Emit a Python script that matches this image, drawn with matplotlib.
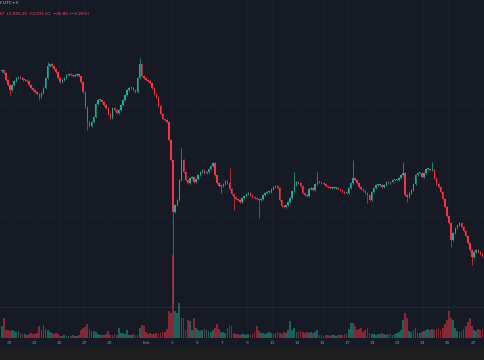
import numpy as np
import pandas as pd
import matplotlib
matplotlib.use('Agg')
import matplotlib.pyplot as plt
import matplotlib.dates as mdates
import matplotlib.transforms as mtransforms

# 4h candles, ETH/USDT, Jan 20 - Feb 27
first_open = 3380
closes = [
    3386, 3370, 3332, 3305, 3278, 3305, 3327, 3343, 3348, 3343, 3332, 3332,
    3327, 3305, 3289, 3278, 3267, 3256, 3240, 3262, 3289, 3343, 3408, 3418,
    3408, 3391, 3375, 3343, 3321, 3332, 3343, 3359, 3364, 3359, 3354, 3359,
    3364, 3354, 3321, 3267, 3186, 3105, 3084, 3105, 3132, 3202, 3224, 3224,
    3213, 3197, 3181, 3148, 3127, 3181, 3170, 3154, 3170, 3197, 3224, 3251,
    3278, 3289, 3289, 3278, 3267, 3343, 3418, 3354, 3343, 3332, 3327, 3316,
    3289, 3256, 3240, 3192, 3148, 3121, 3116, 3105, 3008, 2900, 2619, 2657,
    2684, 2792, 2900, 2835, 2792, 2776, 2803, 2808, 2781, 2797, 2819, 2835,
    2846, 2830, 2835, 2851, 2868, 2884, 2819, 2776, 2760, 2760, 2770, 2787,
    2776, 2743, 2716, 2700, 2689, 2684, 2673, 2695, 2706, 2716, 2722, 2711,
    2700, 2695, 2689, 2684, 2689, 2711, 2722, 2727, 2727, 2743, 2754, 2760,
    2749, 2684, 2652, 2646, 2657, 2673, 2695, 2733, 2765, 2781, 2776, 2760,
    2722, 2711, 2706, 2743, 2749, 2738, 2770, 2781, 2781, 2776, 2770, 2760,
    2754, 2749, 2749, 2749, 2749, 2743, 2738, 2727, 2722, 2722, 2749, 2776,
    2803, 2792, 2776, 2754, 2743, 2733, 2722, 2711, 2684, 2727, 2749, 2765,
    2765, 2765, 2754, 2765, 2781, 2776, 2781, 2792, 2792, 2792, 2803, 2819,
    2830, 2711, 2700, 2722, 2738, 2770, 2819, 2830, 2830, 2808, 2830, 2851,
    2851, 2846, 2846, 2803, 2770, 2754, 2727, 2689, 2646, 2598, 2560, 2468,
    2506, 2533, 2549, 2560, 2538, 2517, 2490, 2452, 2414, 2376, 2403, 2414,
    2403, 2392, 2382,
]
# wicks that stick out clearly (candle index -> price)
high_spikes = {22: 3429, 66: 3451, 86: 2965, 109: 2857, 140: 2835, 151: 2835,
               168: 2900, 192: 2889, 206: 2889}
low_spikes = {4: 3251, 18: 3224, 41: 3062, 82: 2120, 105: 2722, 111: 2630,
              123: 2587, 175: 2668, 194: 2673, 215: 2430, 225: 2333}
volumes = [
    12, 20, 8, 8, 7, 8, 7, 6, 7, 5, 4, 4, 3, 4, 5, 4, 4, 5, 12, 8, 13, 9, 8, 6,
    5, 4, 5, 4, 2, 2, 3, 2, 2, 2, 3, 2, 2, 3, 8, 10, 11, 14, 9, 7, 7, 6,
    4, 3, 3, 3, 4, 7, 3, 3, 4, 3, 10, 5, 5, 4, 8, 3, 3, 4, 3, 3, 10, 13, 12, 6,
    4, 5, 4, 4, 5, 4, 5, 6, 6, 9, 27, 25, 83, 27, 25, 35, 20, 20, 8, 18, 17, 8,
    20, 10, 8, 7, 8, 9, 8, 7, 6, 8, 10, 14, 9, 6, 6, 5, 10, 13, 12,
    5, 4, 4, 3, 4, 4, 3, 4, 3, 4, 6, 12, 7, 5, 5, 4, 5, 6, 5, 4, 5, 6, 5, 4, 6, 5,
    8, 17, 8, 10, 6, 6, 7, 6, 5, 6, 5, 6, 5, 6, 8,
    3, 3, 2, 3, 3, 2, 3, 3, 2, 3, 3, 3, 4, 4, 9, 15, 15, 12, 8, 9, 10, 6, 8, 10,
    5, 4, 4, 3, 4, 4, 5, 4, 3, 4, 4, 3, 4, 5, 6, 8, 18, 25, 20, 7, 6, 8, 10,
    5, 5, 6, 7, 8, 9, 8, 9, 8, 9, 10, 8, 10, 14, 18, 27, 20, 18, 10, 7, 6, 7,
    9, 12, 16, 20, 12, 8, 7, 9, 8, 9,
]
assert len(volumes) == len(closes), (len(volumes), len(closes))

tick_dates = ['2025-01-21', '2025-01-23', '2025-01-25', '2025-01-27', '2025-01-29',
              '2025-02-01', '2025-02-03', '2025-02-05', '2025-02-07', '2025-02-09',
              '2025-02-11', '2025-02-13', '2025-02-15', '2025-02-17', '2025-02-19',
              '2025-02-21', '2025-02-23', '2025-02-25', '2025-02-27']
tick_labels = ['21', '23', '25', '27', '29', 'Feb', '3', '5', '7', '9', '11',
               '13', '15', '17', '19', '21', '23', '25', '27']

BG = '#161a25'
UP = '#22ab94'
DOWN = '#f23645'
GRID = '#1d2130'

closes = np.array(closes, dtype=float)
opens = np.concatenate([[first_open], closes[:-1]])
highs = np.maximum(opens, closes) + 7
lows = np.minimum(opens, closes) - 7
for k, v in high_spikes.items():
    highs[k] = v
for k, v in low_spikes.items():
    lows[k] = v

times = pd.date_range('2025-01-20 08:00', periods=len(closes), freq='4h') + pd.Timedelta(hours=2)
x = mdates.date2num(times.to_pydatetime())
up = closes >= opens
colors = np.where(up, UP, DOWN)

fig = plt.figure(figsize=(4.85, 3.6), dpi=100)
fig.patch.set_facecolor('#1e1e1f')

pos = [0, 12 / 360, 1, 348 / 360]
axv = fig.add_axes(pos)
ax = fig.add_axes(pos, sharex=axv)
ax.set_zorder(axv.get_zorder() + 1)
ax.patch.set_visible(False)
axv.set_facecolor(BG)

x0 = mdates.date2num(pd.Timestamp('2025-01-20 06:48').to_pydatetime())
x1 = mdates.date2num(pd.Timestamp('2025-02-27 22:57').to_pydatetime())
axv.set_xlim(x0, x1)
ax.set_ylim(1885, 3764)
axv.set_ylim(-10, 338)

# grid
tick_x = mdates.date2num(pd.to_datetime(tick_dates).to_pydatetime())
for tx in tick_x:
    axv.axvline(tx, color=GRID, lw=0.5, zorder=0)
for p in range(2200, 3800, 200):
    ax.axhline(p, color=GRID, lw=0.5, zorder=0)
ax.axhline(2106, color=DOWN, lw=0.4, alpha=0.3, zorder=0)

# volume
axv.bar(x, volumes, width=0.14, color=colors, alpha=0.5, linewidth=0)

# candles
body_lo = np.minimum(opens, closes)
body_h = np.maximum(np.abs(closes - opens), 4)
ax.vlines(x, lows, highs, colors=colors, lw=0.5)
ax.bar(x, body_h, bottom=body_lo, width=0.115, color=colors, linewidth=0)

for a in (ax, axv):
    for s in a.spines.values():
        s.set_visible(False)
    a.set_xticks([])
    a.set_yticks([])

trans = mtransforms.blended_transform_factory(ax.transData, ax.transAxes)
for tx, lab in zip(tick_x, tick_labels):
    ax.text(tx, 5 / 348, lab, transform=trans, ha='center', va='center',
            fontsize=3.2, color='#8c909a')

# header
fig.text(-0.002, 1 - 3.5 / 360, '8 UTC+3', fontsize=3.2, color='#c9ccd4',
         ha='left', va='center')
fig.text(-0.002, 1 - 14 / 360, '37  L1,991.20  C2,031.61  \u221246.86 (\u22122.26%)',
         fontsize=3.0, color='#e0546a', ha='left', va='center')

fig.savefig('out.png', dpi=100, facecolor=fig.get_facecolor())
